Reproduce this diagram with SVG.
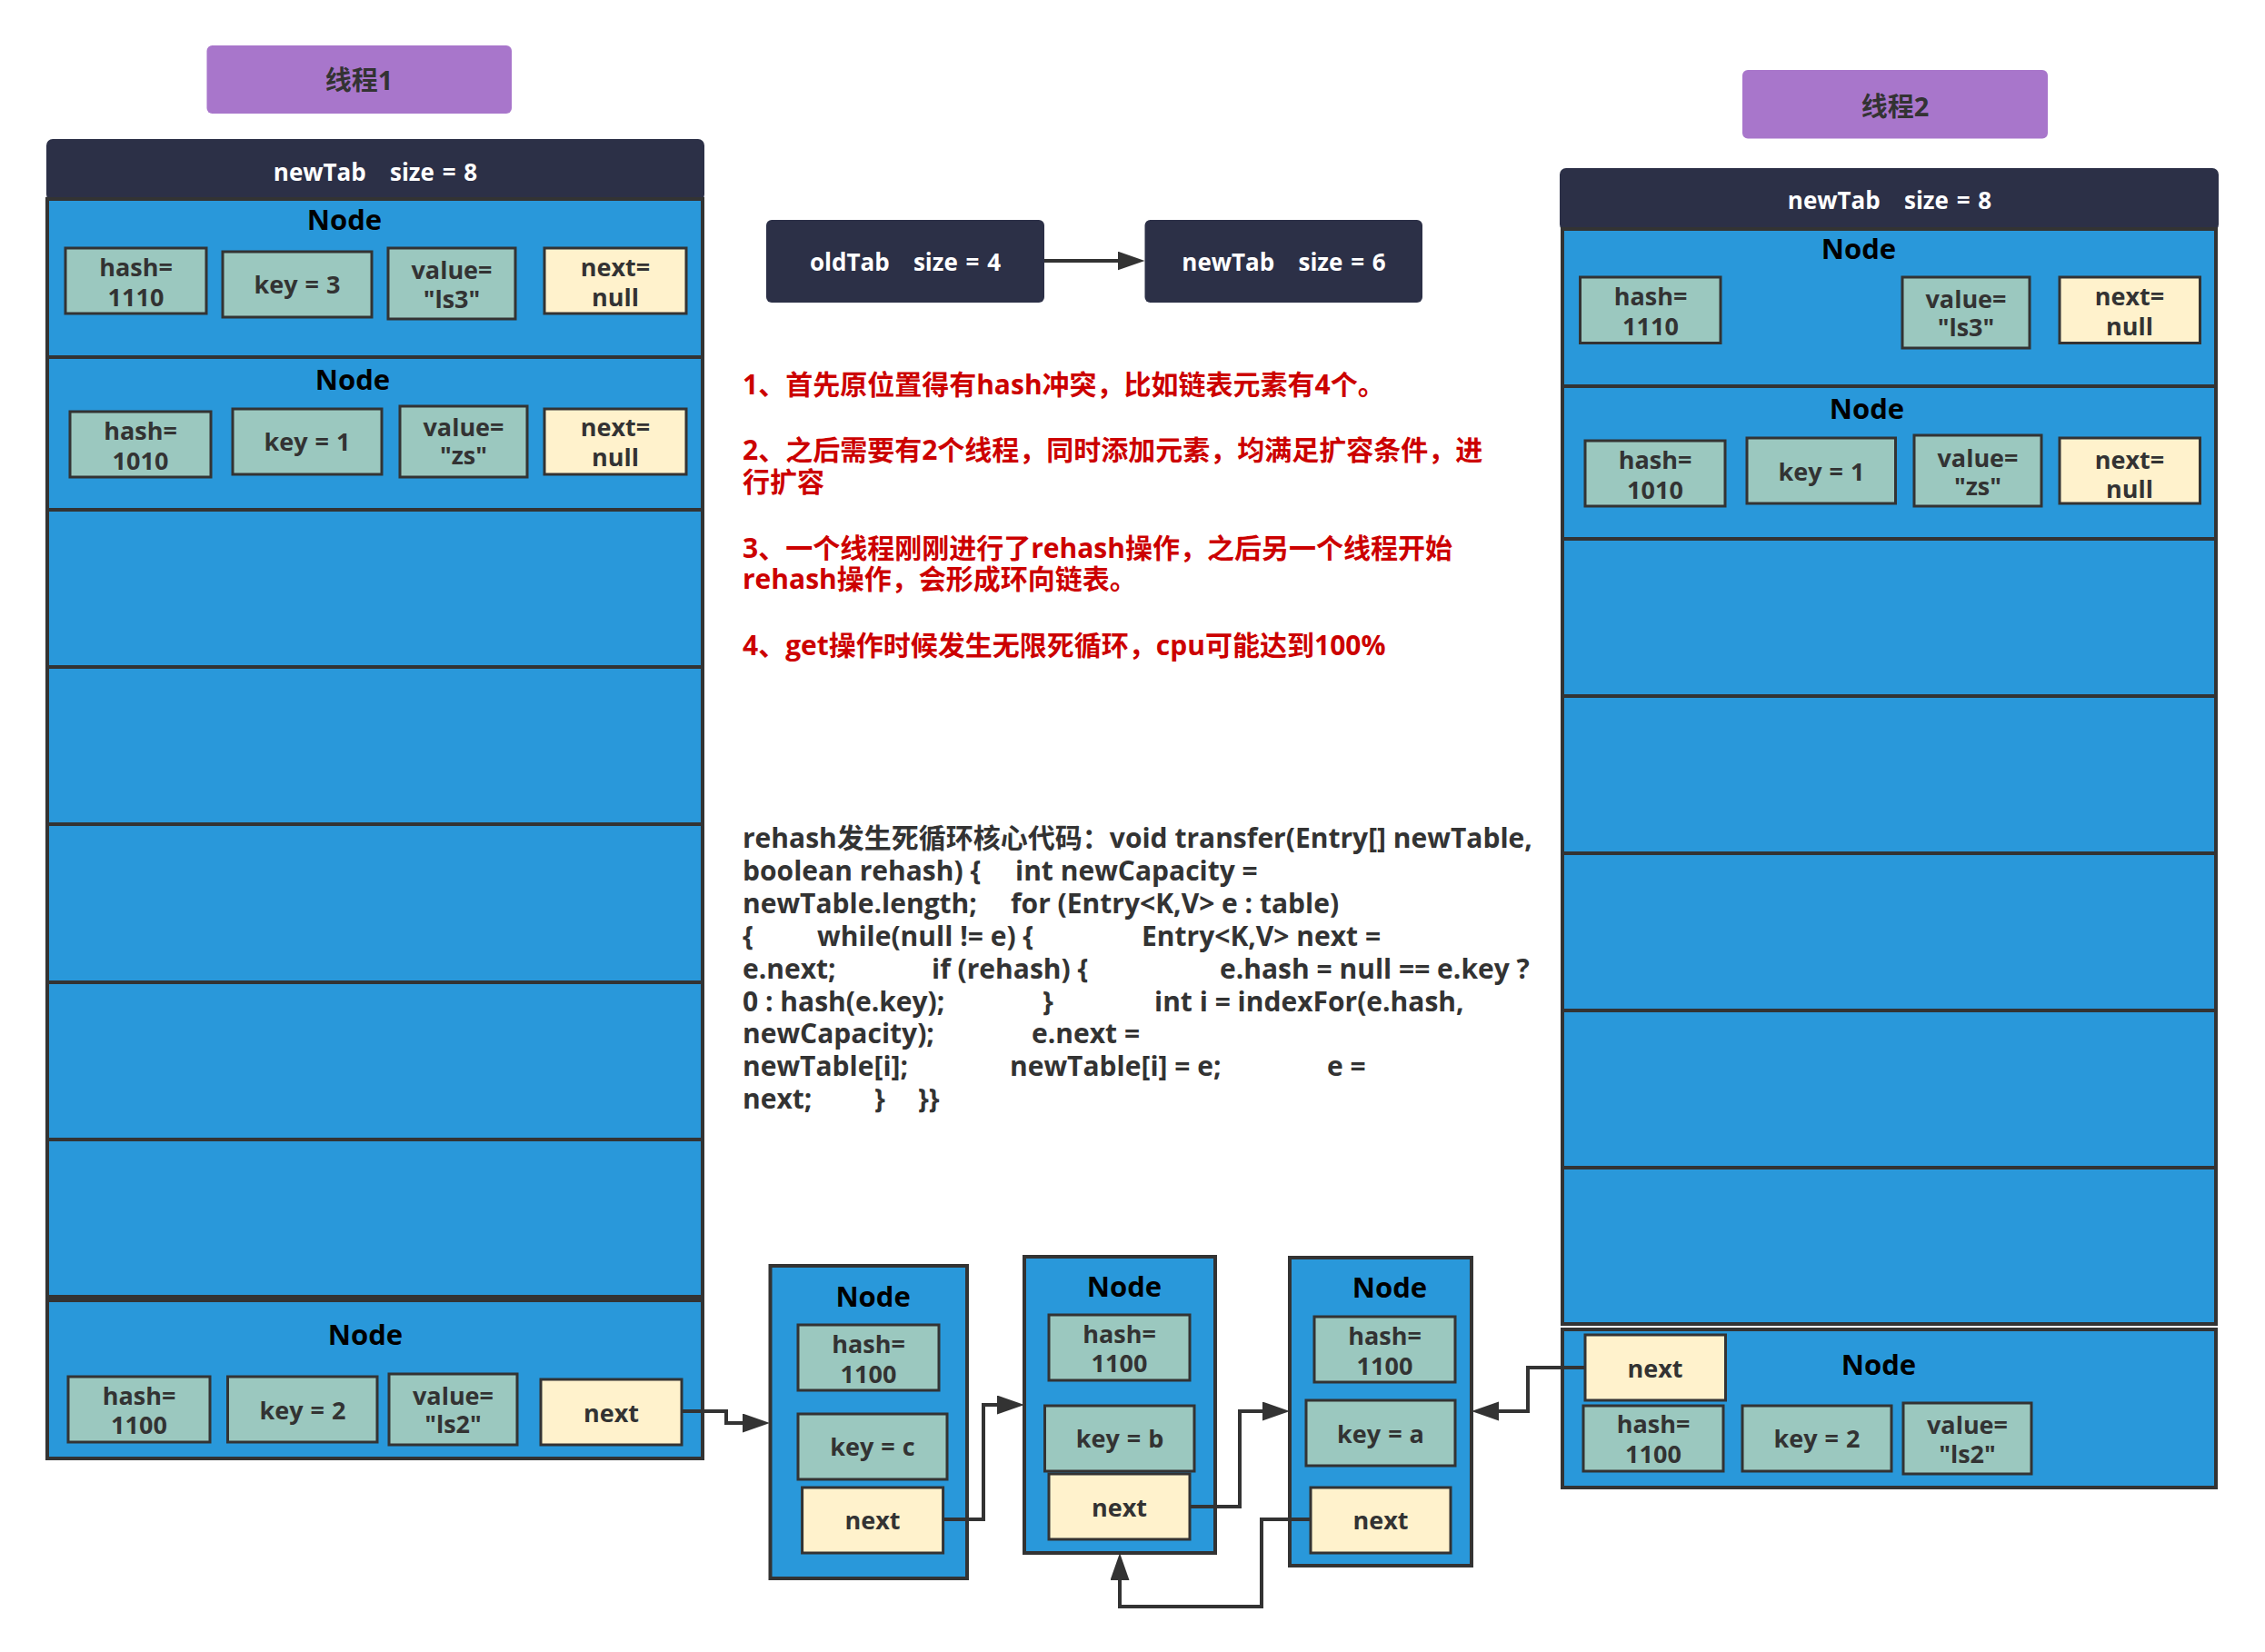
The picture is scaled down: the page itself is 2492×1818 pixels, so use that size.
<svg xmlns="http://www.w3.org/2000/svg" width="2492" height="1818" viewBox="0 0 2492 1818">
<defs>
<marker id="arr" markerUnits="userSpaceOnUse" markerWidth="32" markerHeight="24" refX="20" refY="10.5" orient="auto"><path d="M0,0 L30,10.5 L0,21 z" fill="#333"/></marker>
</defs>
<style>
.t{font-family:"Open Sans","Noto Sans CJK SC",sans-serif;font-weight:700}
.thread{fill:#a876cb}
.hdr{fill:#2c3047}
.row{fill:#2998da;stroke:#333;stroke-width:4}
.cell{fill:#9bc8bf;stroke:#333;stroke-width:3}
.nx{fill:#fff2cc;stroke:#333;stroke-width:3}
.ct{font-size:27px;fill:#333;text-anchor:middle;word-spacing:1px}
.nt{font-size:31px;fill:#000;text-anchor:middle}
.ht{font-size:26px;fill:#fff;text-anchor:middle;white-space:pre;word-spacing:2px}
.tt{font-size:29px;fill:#333;text-anchor:middle}
.red{font-size:30px;fill:#cc0000}
.code{font-size:30px;fill:#333}
.conn{fill:none;stroke:#333;stroke-width:4}
</style>
<rect width="2492" height="1818" fill="#fff"/>

<!-- Thread 1 -->
<g id="thread1-label">
<rect class="thread" x="227.5" y="50" width="335.5" height="75" rx="6"/>
<text class="t tt" x="395" y="99">线程1</text>
</g>
<g id="thread1-header">
<rect class="hdr" x="51" y="153" width="724" height="68" rx="7"/>
<text class="t ht" x="413" y="199">newTab   size = 8</text>
</g>
<g id="thread1-table">
<rect class="row" x="52" y="561" width="721" height="173"/>
<rect class="row" x="52" y="734" width="721" height="173"/>
<rect class="row" x="52" y="907" width="721" height="174"/>
<rect class="row" x="52" y="1081" width="721" height="173"/>
<rect class="row" x="52" y="1254" width="721" height="173"/>
</g>
<g id="t1-node-ls3">
<rect class="row" x="52" y="219" width="721" height="174"/>
<text class="t nt" x="379" y="253">Node</text>
<rect class="cell" x="72" y="273" width="155" height="72"/>
<text class="t ct" x="149.5" y="304">hash=</text><text class="t ct" x="149.5" y="337">1110</text>
<rect class="cell" x="245" y="277" width="164" height="72"/>
<text class="t ct" x="327" y="323">key = 3</text>
<rect class="cell" x="427" y="273" width="140" height="78"/>
<text class="t ct" x="497" y="307">value=</text><text class="t ct" x="497" y="339">"ls3"</text>
<rect class="nx" x="599" y="273" width="156" height="72"/>
<text class="t ct" x="677" y="304">next=</text><text class="t ct" x="677" y="337">null</text>
</g>
<g id="t1-node-zs">
<rect class="row" x="52" y="393" width="721" height="168"/>
<text class="t nt" x="388" y="429">Node</text>
<rect class="cell" x="77" y="453" width="155" height="72"/>
<text class="t ct" x="154.5" y="484">hash=</text><text class="t ct" x="154.5" y="517">1010</text>
<rect class="cell" x="256" y="450" width="164" height="72"/>
<text class="t ct" x="338" y="496">key = 1</text>
<rect class="cell" x="440" y="447" width="140" height="78"/>
<text class="t ct" x="510" y="480">value=</text><text class="t ct" x="510" y="511">"zs"</text>
<rect class="nx" x="599" y="450" width="156" height="72"/>
<text class="t ct" x="677" y="480">next=</text><text class="t ct" x="677" y="513">null</text>
</g>
<g id="t1-node-ls2">
<rect class="row" x="52" y="1431" width="721" height="174"/>
<text class="t nt" x="402" y="1480">Node</text>
<rect class="cell" x="75" y="1515" width="156" height="72"/>
<text class="t ct" x="153" y="1546">hash=</text><text class="t ct" x="153" y="1578">1100</text>
<rect class="cell" x="250.5" y="1515" width="164.5" height="72"/>
<text class="t ct" x="333" y="1562">key = 2</text>
<rect class="cell" x="428" y="1512" width="141" height="78"/>
<text class="t ct" x="498.5" y="1546">value=</text><text class="t ct" x="498.5" y="1577">"ls2"</text>
<rect class="nx" x="595" y="1518" width="155" height="72"/>
<text class="t ct" x="672.5" y="1565">next</text>
</g>

<!-- middle -->
<g id="oldTab">
<rect class="hdr" x="843" y="242" width="306" height="91" rx="6"/>
<text class="t ht" x="996" y="298">oldTab   size = 4</text>
</g>
<g id="newTab6">
<rect class="hdr" x="1259.5" y="242" width="305.5" height="91" rx="6"/>
<text class="t ht" x="1412.5" y="298">newTab   size = 6</text>
</g>
<g id="notes">
<text class="t red" x="817" y="434">1、首先原位置得有hash冲突，比如链表元素有4个。</text>
<text class="t red" x="817" y="506">2、之后需要有2个线程，同时添加元素，均满足扩容条件，进</text>
<text class="t red" x="817" y="541">行扩容</text>
<text class="t red" x="817" y="614">3、一个线程刚刚进行了rehash操作，之后另一个线程开始</text>
<text class="t red" x="817" y="648">rehash操作，会形成环向链表。</text>
<text class="t red" x="817" y="721">4、get操作时候发生无限死循环，cpu可能达到100%</text>
</g>
<g id="code">
<text class="t code" x="817" y="933">rehash发生死循环核心代码：void transfer(Entry[] newTable,</text>
<text class="t code" y="969"><tspan x="817">boolean rehash) {</tspan><tspan x="1117">int newCapacity =</tspan></text>
<text class="t code" y="1005"><tspan x="817">newTable.length;</tspan><tspan x="1112">for (Entry&lt;K,V&gt; e : table)</tspan></text>
<text class="t code" y="1041"><tspan x="817">{</tspan><tspan x="899">while(null != e) {</tspan><tspan x="1256">Entry&lt;K,V&gt; next =</tspan></text>
<text class="t code" y="1077"><tspan x="817">e.next;</tspan><tspan x="1025">if (rehash) {</tspan><tspan x="1342">e.hash = null == e.key ?</tspan></text>
<text class="t code" y="1113"><tspan x="817">0 : hash(e.key);</tspan><tspan x="1147">}</tspan><tspan x="1270">int i = indexFor(e.hash,</tspan></text>
<text class="t code" y="1148"><tspan x="817">newCapacity);</tspan><tspan x="1135">e.next =</tspan></text>
<text class="t code" y="1184"><tspan x="817">newTable[i];</tspan><tspan x="1111">newTable[i] = e;</tspan><tspan x="1460">e =</tspan></text>
<text class="t code" y="1220"><tspan x="817">next;</tspan><tspan x="962">}</tspan><tspan x="1010">}}</tspan></text>
</g>

<g id="node-c">
<rect class="row" x="847.5" y="1393" width="216.5" height="344"/>
<text class="t nt" x="960.6" y="1438">Node</text>
<rect class="cell" x="878" y="1458" width="155" height="72"/>
<text class="t ct" x="955.5" y="1489">hash=</text><text class="t ct" x="955.5" y="1522">1100</text>
<rect class="cell" x="878" y="1556" width="164" height="72"/>
<text class="t ct" x="960" y="1602">key = c</text>
<rect class="nx" x="882.6" y="1637" width="155" height="72"/>
<text class="t ct" x="960" y="1683">next</text>
</g>
<g id="node-b">
<rect class="row" x="1127" y="1383" width="210" height="326"/>
<text class="t nt" x="1237" y="1427">Node</text>
<rect class="cell" x="1154" y="1447" width="155" height="72"/>
<text class="t ct" x="1231.5" y="1478">hash=</text><text class="t ct" x="1231.5" y="1510">1100</text>
<rect class="cell" x="1149.5" y="1547" width="164.5" height="72"/>
<text class="t ct" x="1232" y="1593">key = b</text>
<rect class="nx" x="1154" y="1622" width="155" height="72"/>
<text class="t ct" x="1231.5" y="1669">next</text>
</g>
<g id="node-a">
<rect class="row" x="1419" y="1384" width="200" height="339"/>
<text class="t nt" x="1529" y="1428">Node</text>
<rect class="cell" x="1446" y="1449" width="155" height="72"/>
<text class="t ct" x="1523.5" y="1480">hash=</text><text class="t ct" x="1523.5" y="1513">1100</text>
<rect class="cell" x="1437" y="1541" width="164" height="72"/>
<text class="t ct" x="1519" y="1588">key = a</text>
<rect class="nx" x="1442" y="1637" width="154" height="72"/>
<text class="t ct" x="1519" y="1683">next</text>
</g>

<!-- Thread 2 -->
<g id="thread2-label">
<rect class="thread" x="1917" y="77" width="336" height="75.5" rx="6"/>
<text class="t tt" x="2085" y="128">线程2</text>
</g>
<g id="thread2-header">
<rect class="hdr" x="1716" y="185" width="725" height="69" rx="7"/>
<text class="t ht" x="2079" y="230">newTab   size = 8</text>
</g>
<g id="thread2-table">
<rect class="row" x="1719" y="593" width="719" height="173"/>
<rect class="row" x="1719" y="766" width="719" height="173"/>
<rect class="row" x="1719" y="939" width="719" height="173"/>
<rect class="row" x="1719" y="1112" width="719" height="173"/>
<rect class="row" x="1719" y="1285" width="719" height="172"/>
</g>
<g id="t2-node-ls3">
<rect class="row" x="1719" y="252" width="719" height="173"/>
<text class="t nt" x="2045" y="285">Node</text>
<rect class="cell" x="1738.5" y="305" width="154.5" height="72.5"/>
<text class="t ct" x="1816" y="336">hash=</text><text class="t ct" x="1816" y="369">1110</text>
<rect class="cell" x="2093" y="305" width="140" height="78"/>
<text class="t ct" x="2163" y="339">value=</text><text class="t ct" x="2163" y="370">"ls3"</text>
<rect class="nx" x="2266" y="305" width="154.5" height="72.5"/>
<text class="t ct" x="2343" y="336">next=</text><text class="t ct" x="2343" y="369">null</text>
</g>
<g id="t2-node-zs">
<rect class="row" x="1719" y="425" width="719" height="168"/>
<text class="t nt" x="2054" y="461">Node</text>
<rect class="cell" x="1744" y="485" width="154" height="72"/>
<text class="t ct" x="1821" y="516">hash=</text><text class="t ct" x="1821" y="549">1010</text>
<rect class="cell" x="1922" y="482" width="163.5" height="72"/>
<text class="t ct" x="2004" y="529">key = 1</text>
<rect class="cell" x="2106" y="479" width="140" height="78"/>
<text class="t ct" x="2176" y="514">value=</text><text class="t ct" x="2176" y="545">"zs"</text>
<rect class="nx" x="2266" y="482" width="154.5" height="72"/>
<text class="t ct" x="2343" y="516">next=</text><text class="t ct" x="2343" y="548">null</text>
</g>
<g id="t2-node-ls2">
<rect class="row" x="1719" y="1463" width="719" height="174"/>
<text class="t nt" x="2067" y="1513">Node</text>
<rect class="nx" x="1744" y="1469" width="154.5" height="72"/>
<text class="t ct" x="1821" y="1516">next</text>
<rect class="cell" x="1742" y="1547" width="154" height="72"/>
<text class="t ct" x="1819" y="1577">hash=</text><text class="t ct" x="1819" y="1610">1100</text>
<rect class="cell" x="1917" y="1547" width="164" height="72"/>
<text class="t ct" x="1999" y="1593">key = 2</text>
<rect class="cell" x="2094" y="1544" width="141" height="78"/>
<text class="t ct" x="2164.5" y="1578">value=</text><text class="t ct" x="2164.5" y="1610">"ls2"</text>
</g>

<g id="connectors">
<path class="conn" marker-end="url(#arr)" d="M1149,287 H1249.5"/>
<path class="conn" marker-end="url(#arr)" d="M750,1553 H799 V1566 H837"/>
<path class="conn" marker-end="url(#arr)" d="M1037.6,1672 H1082 V1546 H1117"/>
<path class="conn" marker-end="url(#arr)" d="M1309,1658 H1364 V1553 H1409"/>
<path class="conn" marker-end="url(#arr)" d="M1442,1672 H1388 V1768 H1232 V1719"/>
<path class="conn" marker-end="url(#arr)" d="M1744,1505 H1681 V1553 H1629"/>
</g>
</svg>
